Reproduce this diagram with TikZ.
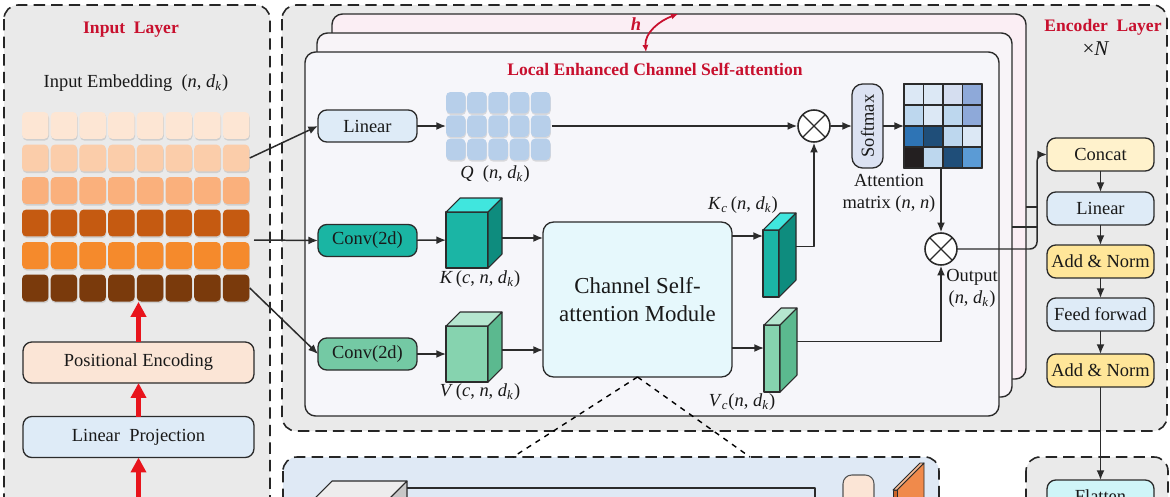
\documentclass[tikz,border=0pt]{standalone}
\usepackage{fontspec}
\setmainfont{Liberation Serif}
\usepackage{tikz}
\usetikzlibrary{arrows.meta, positioning, calc, shadows}
\definecolor{mRed}{HTML}{C8102E}
\definecolor{mArrowRed}{HTML}{E8141C}
\definecolor{mLine}{HTML}{2B2B2B}
\definecolor{mPanel}{HTML}{EAEAEA}
\definecolor{mEmbA}{HTML}{FDE6D4}
\definecolor{mEmbB}{HTML}{FBCDAA}
\definecolor{mEmbC}{HTML}{FAB07C}
\definecolor{mEmbD}{HTML}{C55A11}
\definecolor{mEmbE}{HTML}{F58A2C}
\definecolor{mEmbF}{HTML}{7A3A0C}
\definecolor{mPeach}{HTML}{FBE5D6}
\definecolor{mLightBlue}{HTML}{DEEBF7}
\definecolor{mQ}{HTML}{B7CFEA}
\definecolor{mTeal}{HTML}{1BB5A5}
\definecolor{mTealTop}{HTML}{40E6DE}
\definecolor{mTealSide}{HTML}{0E8C7E}
\definecolor{mGreen}{HTML}{86D3AF}
\definecolor{mGreenTop}{HTML}{B5E6CF}
\definecolor{mGreenSide}{HTML}{5BB98F}
\definecolor{mConvK}{HTML}{1AB5A3}
\definecolor{mConvV}{HTML}{74C9A4}
\definecolor{mCSM}{HTML}{E6F8FC}
\definecolor{mSoft}{HTML}{DCE2F2}
\definecolor{mYellow}{HTML}{FFE699}
\definecolor{mCream}{HTML}{FFF2CC}
\definecolor{mHeadBack}{HTML}{FBEEF4}
\definecolor{mHeadMid}{HTML}{F8F4F8}
\definecolor{mHeadMain}{HTML}{F6F6FA}
\definecolor{mBottom}{HTML}{DFE9F5}
\definecolor{mFlat}{HTML}{CFF5F8}
\definecolor{mOrange}{HTML}{F08A4B}
\definecolor{mOrangeDark}{HTML}{C9652A}
\definecolor{amA}{HTML}{DCE8F5}
\definecolor{amB}{HTML}{D5DEF0}
\definecolor{amC}{HTML}{8EA9D9}
\definecolor{amD}{HTML}{BDD7EE}
\definecolor{amE}{HTML}{2E74B5}
\definecolor{amF}{HTML}{1F4E79}
\definecolor{amG}{HTML}{231F20}
\definecolor{amH}{HTML}{5B9BD5}
\newcommand{\dk}{\textit{d}\textsubscript{\textit{k}}}

\begin{document}
\begin{tikzpicture}[x=0.02cm, y=-0.02cm, line join=round,
    every node/.style={font=\fontsize{10.5}{12.5}\selectfont, text=black!90},
    panel/.style={draw=black!85, line width=0.9pt, dash pattern=on 6.5pt off 3.5pt, rounded corners=8pt},
    title/.style={text=mRed, font=\bfseries\fontsize{10}{12}\selectfont},
    box/.style={draw=mLine, line width=0.75pt, rounded corners=5pt, inner sep=0pt, outer sep=0pt,
      minimum width=1.98cm, minimum height=0.64cm},
    rbox/.style={box, minimum width=2.14cm, minimum height=0.66cm},
    head/.style={draw=mLine, line width=0.8pt, rounded corners=6pt},
    cell/.style={minimum width=0.53cm, minimum height=0.54cm, inner sep=0pt, rounded corners=2.5pt,
      drop shadow={shadow xshift=0.3pt, shadow yshift=-0.9pt, opacity=0.25}},
    qcell/.style={cell, fill=mQ, minimum width=0.39cm, minimum height=0.43cm},
    mcell/.style={draw=mLine, line width=0.6pt, minimum width=0.39cm, minimum height=0.42cm, inner sep=0pt, outer sep=0pt},
    otimes/.style={circle, draw=mLine, line width=0.9pt, minimum size=0.64cm, inner sep=0pt, fill=white,
      path picture={\draw[line width=0.7pt] (path picture bounding box.north west) -- (path picture bounding box.south east)
        (path picture bounding box.north east) -- (path picture bounding box.south west);}},
    arr/.style={-{Latex[length=5.5pt,width=4.5pt]}, line width=0.85pt, draw=mLine},
    redarrow/.style={-{Triangle[length=8.5pt,width=8.5pt]}, line width=2.6pt, draw=mArrowRed},
    harrow/.style={{Latex[length=4pt,width=3.5pt]}-{Latex[length=4pt,width=3.5pt]}, line width=1pt, draw=mRed}]

  \useasboundingbox (0,0) rectangle (1170,497);
  \clip (0,0) rectangle (1170,497);
  \fill[white] (0,0) rectangle (1170,497);

  % input layer
  \draw[panel, fill=mPanel] (4,5) rectangle (270,540);
  \node[title] (intitle) at (131,30) {Input\ \ Layer};
  \node (embtitle) at (136,83) {Input Embedding\ \ (\textit{n}, \dk)};
  \foreach \fillc [count=\r] in {mEmbA, mEmbB, mEmbC, mEmbD, mEmbE, mEmbF} {
    \foreach \c in {1,...,8} {
      \node[cell, fill=\fillc] (e\r-\c) at (6.55+28.7*\c, 93+32.5*\r) {};
    }
  }
  \node[box, fill=mPeach, minimum width=4.62cm, minimum height=0.82cm] (pe) at (138.5,362.5) {Positional Encoding};
  \node[box, fill=mLightBlue, minimum width=4.62cm, minimum height=0.82cm] (lp) at (138.5,437) {Linear\ \ Projection};
  \coordinate (inbot) at (138.5,505);
  \draw[redarrow] (pe.north) -- (pe.north |- e6-5.south);
  \draw[redarrow] (lp.north) -- (pe.south);
  \draw[redarrow] (inbot) -- (lp.south);

  % encoder layer
  \draw[panel, fill=mPanel] (282,5) rectangle (1167,431);
  \node[title] (enctitle) at (1103,27) {Encoder\ \ Layer};
  \node[font=\fontsize{12}{14}\selectfont] (enctimes) at (1096,49) {×\textit{N}};
  \draw[head, fill=mHeadBack] (332,14) rectangle (1026,379);
  \draw[head, fill=mHeadMid] (317,33) rectangle (1012,397);
  \draw[head, fill=mHeadMain] (305,52) rectangle (999,416);
  \node[text=mRed, font=\bfseries\itshape\fontsize{10.5}{12}\selectfont] (hlab) at (636,24) {h};
  \coordinate (hbot) at (646,52);
  \coordinate (htop) at (678,14);
  \draw[harrow] (hbot) to[out=95, in=200] (htop);
  \node[title] (lectitle) at (655,69) {Local Enhanced Channel Self-attention};

  \node[box, fill=mLightBlue] (linq) at (367.5,126) {Linear};
  \node[box, fill=mConvK] (convk) at (367.5,240.5) {Conv(2d)};
  \node[box, fill=mConvV] (convv) at (367.5,354) {Conv(2d)};
  \coordinate (embmid) at (254,240);
  \draw[arr] (e2-8.east) -- (linq.west);
  \draw[arr] (embmid) -- (convk.west);
  \draw[arr] (e6-8.east) -- (convv.west);

  \foreach \r in {1,2,3} {
    \foreach \c in {1,...,5} {
      \node[qcell] (q\r-\c) at (434.55+21.2*\c, 79.45+23.3*\r) {};
    }
  }
  \node[minimum width=2.12cm, minimum height=1.4cm, inner sep=0pt, outer sep=0pt] (qgrid) at (499,127) {};
  \node (qlab) at (495,174) {\textit{Q}\ \ (\textit{n}, \dk)};
  \draw[arr] (linq.east) -- (linq.east -| qgrid.west);

  \foreach \nm/\px/\py/\bw/\bh/\bd/\cfront/\ctop/\cside in
    {kcube/467/240/42/56/14/mTeal/mTealTop/mTealSide,
     vcube/467/354/42/56/14/mGreen/mGreenTop/mGreenSide,
     kc/771/263.5/16/67/17/mTeal/mTealTop/mTealSide,
     vc/772/358.5/16/67/17/mGreen/mGreenTop/mGreenSide} {
    \node[draw=mLine, fill=\cfront, line width=0.6pt, minimum width=\bw*0.02cm, minimum height=\bh*0.02cm,
      inner sep=0pt, outer sep=0pt] (\nm) at (\px,\py) {};
    \filldraw[fill=\ctop, draw=mLine, line width=0.6pt] (\nm.north west) -- ++(\bd,-\bd) -- ++(\bw,0) -- (\nm.north east) -- cycle;
    \filldraw[fill=\cside, draw=mLine, line width=0.6pt] (\nm.north east) -- ++(\bd,-\bd) -- ++(0,\bh) -- (\nm.south east) -- cycle;
  }
  \node (klab) at (480,279) {\textit{K}\,(\textit{c}, \textit{n}, \dk)};
  \node (vlab) at (480,392) {\textit{V}\,(\textit{c}, \textit{n}, \dk)};
  \node (kclab) at (743,205) {\textit{K}\textsubscript{\textit{c}}\,(\textit{n}, \dk)};
  \node (vclab) at (742,402) {\textit{V}\textsubscript{\textit{c}}(\textit{n}, \dk)};
  \draw[arr] (convk) -- (kcube);
  \draw[arr] (convv) -- (vcube);

  \node[box, fill=mCSM, rounded corners=6pt, minimum width=3.78cm, minimum height=3.1cm, align=center,
    font=\fontsize{13}{15.5}\selectfont] (csm) at (637.5,299.5) {Channel Self-\\attention Module};
  \draw[arr] ($(kcube.east)+(14,-2)$) -- ($(kcube.east -| csm.west)+(0,-2)$);
  \draw[arr] ($(vcube.east)+(14,-4)$) -- ($(vcube.east -| csm.west)+(0,-4)$);
  \draw[arr] (csm.east |- 0,236) -- (kc.west |- 0,236);
  \draw[arr] (csm.east |- 0,348) -- (vc.west |- 0,348);

  \node[otimes] (ot1) at (814,126) {};
  \node[otimes] (ot2) at (941,249) {};
  \node[box, fill=mSoft, rotate=90, rounded corners=6pt, minimum width=1.68cm, minimum height=0.62cm] (soft) at (867.5,126) {Softmax};
  \foreach \rowlist [count=\r] in {{amA,amA,amB,amC},{amD,amA,amD,amC},{amE,amF,amD,amA},{amG,amD,amF,amH}} {
    \foreach \cc [count=\c] in \rowlist {
      \node[mcell, fill=\cc] (m\r-\c) at (894.25+19.5*\c, 73.5+21*\r) {};
    }
  }
  \node[draw=mLine, line width=0.8pt, minimum width=1.56cm, minimum height=1.68cm, inner sep=0pt, outer sep=0pt] (attn) at (943,126) {};
  \node[align=center] (attnlab) at (889,193) {Attention\\matrix (\textit{n}, \textit{n})};
  \node[align=center] (outlab) at (972,288) {Output\\(\textit{n}, \dk)};

  \draw[arr] (qgrid.east |- ot1) -- (ot1);
  \draw[arr] (ot1) -- (soft);
  \draw[arr] (soft) -- (attn);
  \draw[arr] (attn.south -| ot2) -- (ot2.north);
  \draw[arr] ($(kc.east)+(17,-17)$) -| (ot1.south);
  \draw[arr] ($(vc.east)+(17,-17)$) -| (ot2.south);

  \node[rbox, fill=mCream] (concat) at (1100.5,154.5) {Concat};
  \node[rbox, fill=mLightBlue] (lin2) at (1100.5,208.5) {Linear};
  \node[rbox, fill=mYellow] (an1) at (1100.5,261.5) {Add \& Norm};
  \node[rbox, fill=mLightBlue] (ff) at (1100.5,314.5) {Feed forwad};
  \node[rbox, fill=mYellow] (an2) at (1100.5,370.5) {Add \& Norm};
  \foreach \a/\b in {concat/lin2, lin2/an1, an1/ff, ff/an2} {
    \draw[arr] (\a) -- (\b);
  }
  \draw[arr, rounded corners=4pt] (ot2.east) -| ($(concat.west)+(-10,0)$) -- (concat.west);
  \draw[line width=0.85pt, draw=mLine] (1012,227) -- (1037,227);
  \draw[line width=0.85pt, draw=mLine] (1026,207) -- (1037,207);

  % bottom panels
  \draw[panel, fill=mBottom] (283,457) rectangle (939,540);
  \draw[panel, fill=mPanel] (1026,457) rectangle (1168,540);
  \coordinate (bp1) at (513,457);
  \coordinate (bp2) at (750,457);
  \draw[dashed, line width=0.8pt] (csm.south) -- (bp1);
  \draw[dashed, line width=0.8pt] (csm.south) -- (bp2);
  \filldraw[fill=black!7, draw=mLine, line width=0.6pt] (332,481) -- (407,481) -- (390,498) -- (315,498) -- cycle;
  \filldraw[fill=black!22, draw=mLine, line width=0.6pt] (407,481) -- (407,530) -- (390,547) -- (390,498) -- cycle;
  \draw[line width=0.7pt, draw=mLine] (407,488) -- (815,488) -- (815,540);
  \draw[fill=mPeach, draw=mLine!80, line width=0.6pt, rounded corners=5pt] (843,475) rectangle (874,540);
  \filldraw[fill=mOrange, draw=mLine, line width=0.5pt] (897,490) -- (924,463) -- (924,530) -- (897,557) -- cycle;
  \filldraw[fill=mOrangeDark, draw=mLine, line width=0.5pt] (893,490) rectangle (897,540);
  \filldraw[fill=mOrange!60, draw=mLine, line width=0.5pt] (893,490) -- (920,463) -- (924,463) -- (897,490) -- cycle;
  \node[rbox, fill=mFlat, anchor=north] (flat) at (1100.5,480) {Flatten};
  \draw[arr] (an2) -- (flat);
\end{tikzpicture}
\end{document}
